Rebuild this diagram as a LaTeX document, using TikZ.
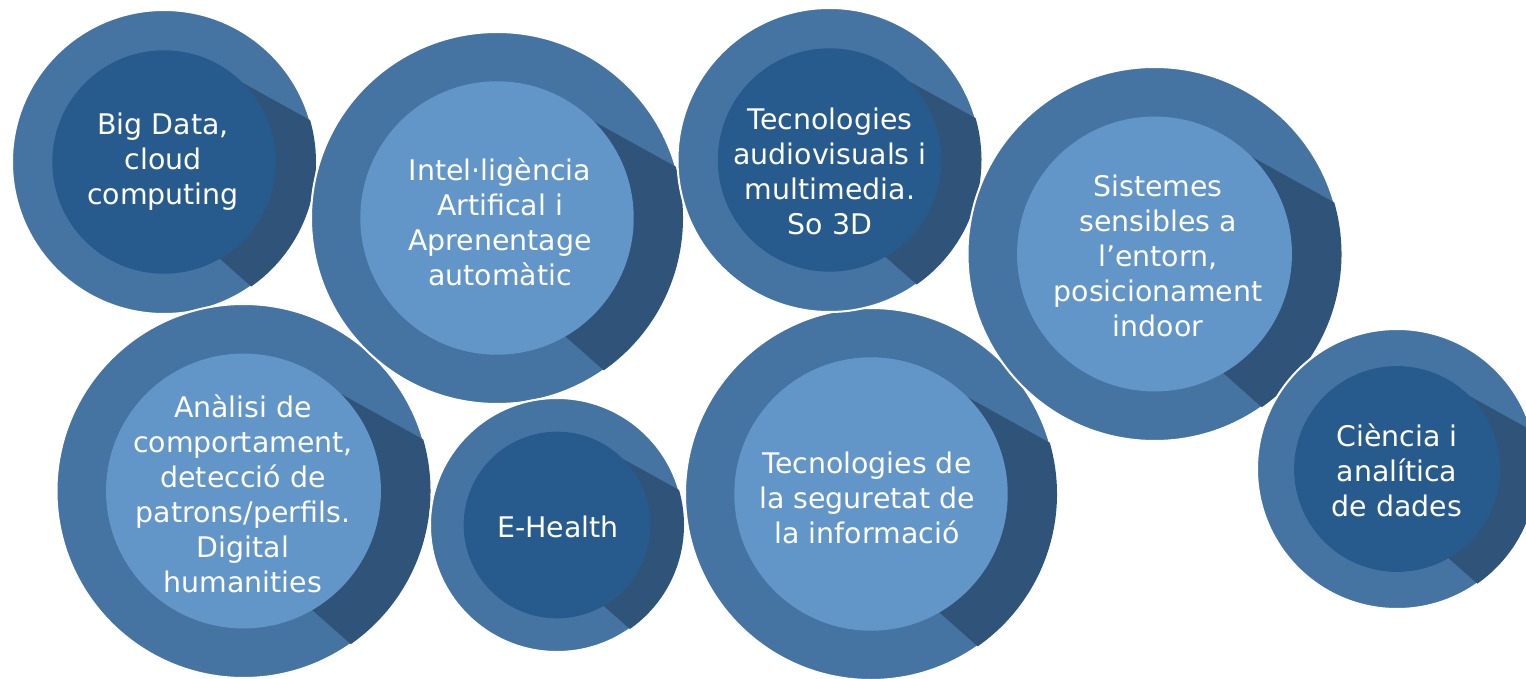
\documentclass[tikz,border=0pt]{standalone}
\usepackage{fontspec}
\setmainfont{DejaVu Sans}
\usetikzlibrary{calc}
\definecolor{ringc}{HTML}{4674A2}
\definecolor{shadc}{HTML}{30537A}
\definecolor{darkin}{HTML}{285B8D}
\definecolor{lightin}{HTML}{6295C8}
\tikzset{
  outerdisc/.style={circle, fill=ringc, draw=white, line width=1pt, inner sep=0pt, outer sep=0pt},
  innerdisc/.style={circle, draw=none, inner sep=0pt, outer sep=0pt},
  shadowwedge/.style={fill=shadc},
  txt/.style={text=white, align=center, inner sep=0pt, font=\fontsize{14.2}{17.5}\selectfont}
}
% name, cx, cy, R (px), inner colour, text x, text y, text
\newcommand\drawbubble[8]{%
  \coordinate (#1c) at (#2,-#3);
  \node[outerdisc, minimum size=#4*1pt] (#1o) at (#1c) {};
  \fill[shadowwedge] ($(#1c)+(45:0.735*#4*0.5pt)$) -- ($(#1c)+(16:#4*0.5pt)$)
     arc[start angle=16, end angle=-55, radius=#4*0.5pt]
     -- ($(#1c)+(-60:0.735*#4*0.5pt)$) -- (#1c) -- cycle;
  \node[innerdisc, fill=#5, minimum size=0.735*#4*1pt] (#1i) at (#1c) {};
  \node[txt] (#1t) at (#6,-#7) {#8};
}
\begin{document}
\begin{tikzpicture}[x=0.5pt,y=0.5pt]
\useasboundingbox[fill=white] (0,0) rectangle (1526,-679);
\drawbubble{bd}{164}{162}{152}{darkin}{163}{162}{Big Data,\\cloud\\computing}
\drawbubble{an}{243.5}{491}{187}{lightin}{243}{494}{Anàlisi de\\comportament,\\detecció de\\patrons/perfils.\\Digital\\humanities}
\drawbubble{ia}{497}{218}{186}{lightin}{500}{222}{Intel·ligència\\Artifical i\\Aprenentage\\automàtic}
\drawbubble{eh}{557}{525}{127}{darkin}{558}{527}{E-Health}
\drawbubble{sg}{871}{494}{186}{lightin}{867}{498}{Tecnologies de\\la seguretat de\\la informació}
\drawbubble{av}{829.5}{160}{152}{darkin}{830}{171}{Tecnologies\\audiovisuals i\\multimedia.\\So 3D}
\drawbubble{ss}{1154.5}{254}{187}{lightin}{1158}{256}{Sistemes\\sensibles a\\l’entorn,\\posicionament\\indoor}
\drawbubble{ci}{1397}{469}{140}{darkin}{1397}{470}{Ciència i\\analítica\\de dades}
\end{tikzpicture}
\end{document}
